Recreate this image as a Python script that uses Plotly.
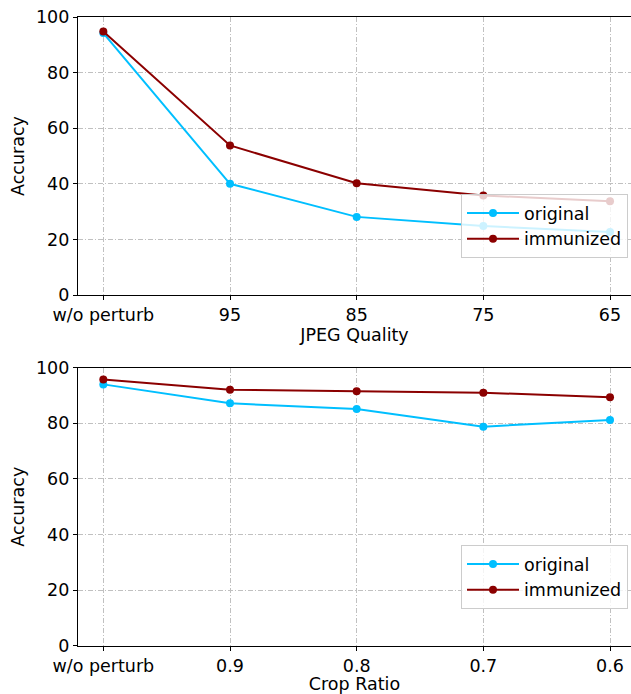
import plotly.graph_objects as go

jpeg_labels = ["w/o perturb", "95", "85", "75", "65"]
jpeg_original = [94.2, 40.0, 28.1, 24.8, 22.7]
jpeg_immunized = [94.8, 53.8, 40.2, 35.8, 33.7]

crop_labels = ["w/o perturb", "0.9", "0.8", "0.7", "0.6"]
crop_original = [94.0, 87.2, 85.1, 78.8, 81.2]
crop_immunized = [95.8, 92.1, 91.5, 91.0, 89.4]

y_ticks = [0, 20, 40, 60, 80, 100]

W, H = 631, 694
C_ORIG = "#00BFFF"
C_IMM = "#8B0000"
FONT = dict(family="DejaVu Sans", size=17.5, color="black")
GRID_DASH = "5px,2px,1px,2px"

fig = go.Figure()

def add_series(xaxis, yaxis, legend, orig, imm):
    idx = list(range(len(orig)))
    fig.add_trace(go.Scatter(x=idx, y=orig, mode="lines+markers", name="original",
                             line=dict(color=C_ORIG, width=2), marker=dict(size=8, color=C_ORIG),
                             xaxis=xaxis, yaxis=yaxis, legend=legend))
    fig.add_trace(go.Scatter(x=idx, y=imm, mode="lines+markers", name="immunized",
                             line=dict(color=C_IMM, width=2), marker=dict(size=8, color=C_IMM),
                             xaxis=xaxis, yaxis=yaxis, legend=legend))

add_series("x", "y", "legend", jpeg_original, jpeg_immunized)
add_series("x2", "y2", "legend2", crop_original, crop_immunized)

x_left = 78 / W
x_range = [-0.2, 4 + 21 / 126.7]

def xaxis(labels, title, anchor):
    return dict(domain=[x_left, 1], range=x_range, anchor=anchor, automargin=False,
                tickmode="array", tickvals=list(range(len(labels))), ticktext=labels,
                showline=True, linecolor="black", linewidth=1.2, mirror=True,
                ticks="outside", ticklen=4, tickcolor="black", tickwidth=1,
                showgrid=True, gridcolor="#c0c0c0", gridwidth=1, griddash=GRID_DASH,
                zeroline=False, tickfont=FONT,
                title=dict(text=title, font=FONT, standoff=4))

def yaxis(domain, anchor):
    return dict(domain=domain, range=[0, 100], anchor=anchor, automargin=False,
                tickmode="array", tickvals=y_ticks,
                showline=True, linecolor="black", linewidth=1.2,
                ticks="outside", ticklen=4, tickcolor="black", tickwidth=1,
                showgrid=True, gridcolor="#c0c0c0", gridwidth=1, griddash=GRID_DASH,
                zeroline=False, tickfont=FONT,
                title=dict(text="Accuracy", font=FONT, standoff=6))

top_dom = [1 - 295 / H, 1 - 17 / H]
bot_dom = [1 - 645.7 / H, 1 - 367.7 / H]

legend_common = dict(bgcolor="rgba(255,255,255,0.8)", bordercolor="#cccccc", borderwidth=1,
                     font=FONT, xanchor="right", yanchor="bottom", x=628 / W,
                     tracegroupgap=0, itemwidth=52)

fig.update_layout(
    template="none",
    width=W, height=H,
    margin=dict(l=0, r=0, t=0, b=0, autoexpand=False),
    paper_bgcolor="white", plot_bgcolor="white",
    font=FONT,
    xaxis=xaxis(jpeg_labels, "JPEG Quality", "y"),
    yaxis=yaxis(top_dom, "x"),
    xaxis2=xaxis(crop_labels, "Crop Ratio", "y2"),
    yaxis2=yaxis(bot_dom, "x2"),
    legend=dict(legend_common, y=1 - 258 / H),
    legend2=dict(legend_common, y=1 - 609 / H),
)

fig.write_html("out.html")
